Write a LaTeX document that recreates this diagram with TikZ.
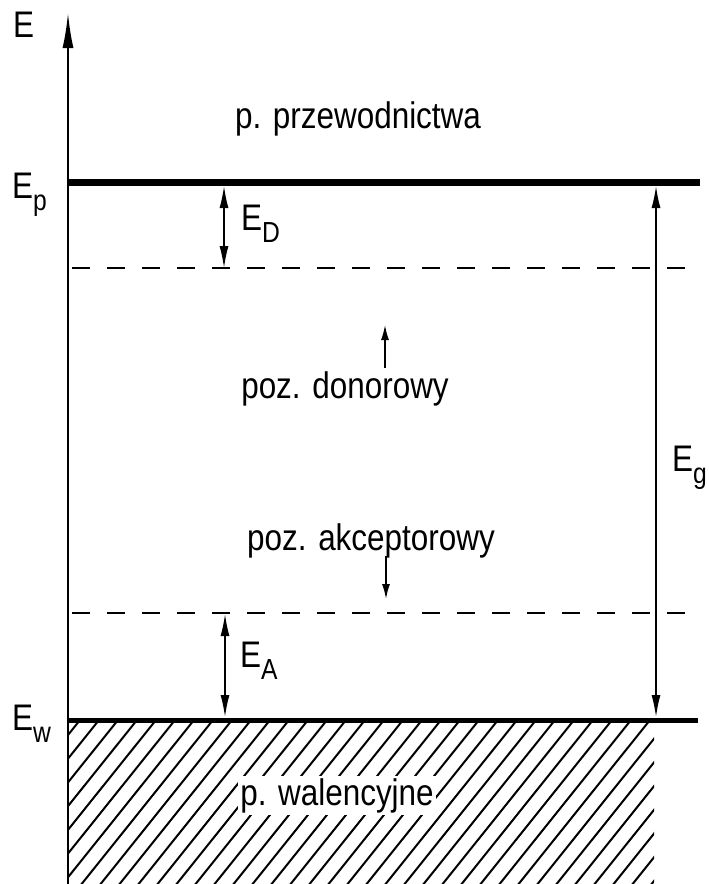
\documentclass[tikz,border=0pt]{standalone}
\usepackage{fontspec}
\setmainfont{Liberation Sans}[FakeStretch=0.85]
\usetikzlibrary{arrows.meta}
\newcommand\dolny[1]{\raisebox{-12pt}{\fontsize{29pt}{29pt}\selectfont #1}}

\begin{document}
\begin{tikzpicture}[x=1pt,y=-1pt,
    napis/.style={inner sep=0pt,font=\fontsize{37pt}{37pt}\selectfont},
    pasmo/.style={line width=#1},
    kreska/.style={line width=2.5pt,dash pattern=on 18pt off 17pt},
    strzalka/.style={line width=1.5pt,{Latex[length=22pt,width=9pt]}-{Latex[length=22pt,width=9pt]}},
    maly/.style={line width=1.5pt,-{Latex[length=15pt,width=8pt]}}]
        \useasboundingbox (0,0) rectangle (709,884);
        % Kreskowanie pasma walencyjnego
        \begin{scope}
            \clip (68,720) rectangle (654,884);
            \foreach \k in {-8,...,38}
                \draw[line width=2pt] (80+19*\k,720) -- (80+19*\k-133,886);
        \end{scope}
        % Os energii
        \coordinate (O) at (68,884);
        \coordinate (Otop) at (68,13);
        \draw[line width=2pt,-{Latex[length=35pt,width=11pt]}] (O) -- (Otop);
        \node[napis,anchor=base west] (E) at (13,37) {E};
        % Krawedzie pasm
        \coordinate (Ep0) at (68,182);
        \coordinate (Ep1) at (700,182);
        \coordinate (Ew0) at (68,720);
        \coordinate (Ew1) at (698,720);
        \draw[pasmo=7pt] (Ep0) -- (Ep1);
        \draw[pasmo=5pt] (Ew0) -- (Ew1);
        \node[napis,anchor=base west] (Ep) at (12,198) {E\dolny{p}};
        \node[napis,anchor=base west] (Ew) at (12,730) {E\dolny{w}};
        % Poziomy domieszkowe
        \coordinate (D0) at (72,268);
        \coordinate (D1) at (698,268);
        \coordinate (A0) at (72,613);
        \coordinate (A1) at (698,613);
        \draw[kreska] (D0) -- (D1);
        \draw[kreska] (A0) -- (A1);
        % Energie
        \coordinate (EDg) at (224,186);
        \coordinate (EDd) at (224,268);
        \draw[strzalka] (EDg) -- (EDd);
        \node[napis,anchor=base west] (ED) at (241,230) {E\dolny{D}};
        \coordinate (EAg) at (225,614);
        \coordinate (EAd) at (225,717);
        \draw[strzalka] (EAg) -- (EAd);
        \node[napis,anchor=base west] (EA) at (240,667) {E\dolny{A}};
        \coordinate (Egg) at (656,186);
        \coordinate (Egd) at (656,717);
        \draw[strzalka] (Egg) -- (Egd);
        \node[napis,anchor=base west] (Eg) at (672,471) {E\dolny{g}};
        % Opisy
        \node[napis,anchor=base] (prz) at (358,128) {p. przewodnictwa};
        \node[napis,anchor=base] (don) at (345,398) {poz. donorowy};
        \node[napis,anchor=base] (akc) at (371,550) {poz. akceptorowy};
        \node[napis,anchor=base,fill=white,inner sep=2pt] (wal) at (337,805) {p. walencyjne};
        \coordinate (donT) at (385,325);
        \coordinate (donB) at (385,368);
        \draw[maly] (donB) -- (donT);
        \coordinate (akcT) at (386,556);
        \coordinate (akcB) at (386,599);
        \draw[maly] (akcT) -- (akcB);
    \end{tikzpicture}
\end{document}
